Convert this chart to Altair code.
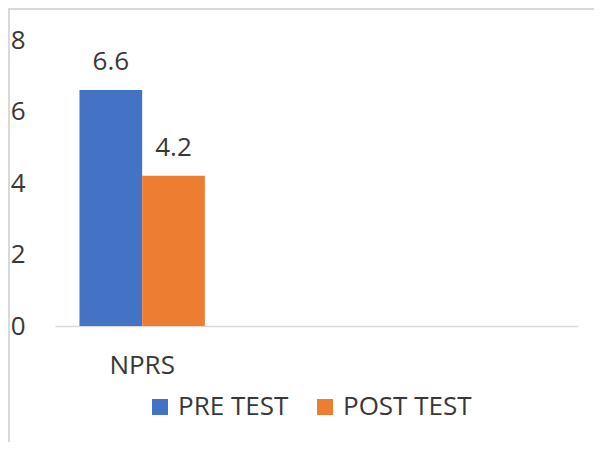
import altair as alt
import pandas as pd

categories = ["NPRS"]
series = ["PRE TEST", "POST TEST"]
values = [6.6, 4.2]
colors = ["#4472C4", "#ED7D31"]
y_ticks = [0, 2, 4, 6, 8]
x_slots = ["NPRS", "_slot2", "_slot3"]

df = pd.DataFrame({
    "category": [categories[0]] * len(series),
    "series": series,
    "value": values,
})

FONT = "Open Sans"
TXT = "#383838"
GRAY = "#d9d9d9"
FS = 26

x_enc = alt.X(
    "category:N",
    scale=alt.Scale(domain=x_slots, paddingInner=0, paddingOuter=0),
    axis=alt.Axis(
        title=None, labelAngle=0, ticks=False, tickSize=0,
        domainColor=GRAY, domainWidth=1.5,
        labelFontSize=FS, labelFont=FONT, labelColor=TXT, labelPadding=26,
        labelExpr="datum.value == 'NPRS' ? datum.value : ''",
        grid=False,
    ),
)
xoff = alt.XOffset("series:N", scale=alt.Scale(domain=series, paddingInner=0, paddingOuter=0.39))
y_enc = alt.Y(
    "value:Q",
    scale=alt.Scale(domain=[0, 8], nice=False),
    axis=alt.Axis(
        title=None, values=y_ticks, domain=False, ticks=False, tickSize=0, grid=False,
        labelFontSize=FS, labelFont=FONT, labelColor=TXT, labelPadding=30,
    ),
)

bars = alt.Chart(df).mark_bar().encode(
    x=x_enc,
    xOffset=xoff,
    y=y_enc,
    color=alt.Color(
        "series:N",
        scale=alt.Scale(domain=series, range=colors),
        legend=alt.Legend(
            title=None, orient="none", direction="horizontal",
            legendX=92, legendY=354, padding=0,
            symbolType="square", symbolSize=256, symbolStrokeWidth=0, symbolOpacity=1,
            labelFontSize=FS, labelFont=FONT, labelColor=TXT,
            labelOffset=5, columnPadding=23, labelLimit=300,
        ),
    ),
)

labels = alt.Chart(df).mark_text(
    fontSize=FS, font=FONT, color=TXT, baseline="alphabetic", dy=-20
).encode(
    x=alt.X("category:N", scale=alt.Scale(domain=x_slots, paddingInner=0, paddingOuter=0)),
    xOffset=xoff,
    y=alt.Y("value:Q"),
    text=alt.Text("value:Q", format=".1f"),
)

one = alt.Data(values=[{}])
top_border = alt.Chart(one).mark_rule(color=GRAY, strokeWidth=2).encode(
    x=alt.value(-47), x2=alt.value(600), y=alt.value(-31)
)
left_border = alt.Chart(one).mark_rule(color=GRAY, strokeWidth=2).encode(
    x=alt.value(-46), y=alt.value(-32), y2=alt.value(410)
)

chart = alt.layer(top_border, left_border, bars, labels).properties(
    width=523, height=286,
    padding={"left": 47, "top": 32, "right": 16, "bottom": 116},
    autosize=alt.AutoSizeParams(type="none"),
    background="white",
).configure_view(stroke=None)

chart.save("out.html", embed_options={"renderer": "svg", "actions": False})
